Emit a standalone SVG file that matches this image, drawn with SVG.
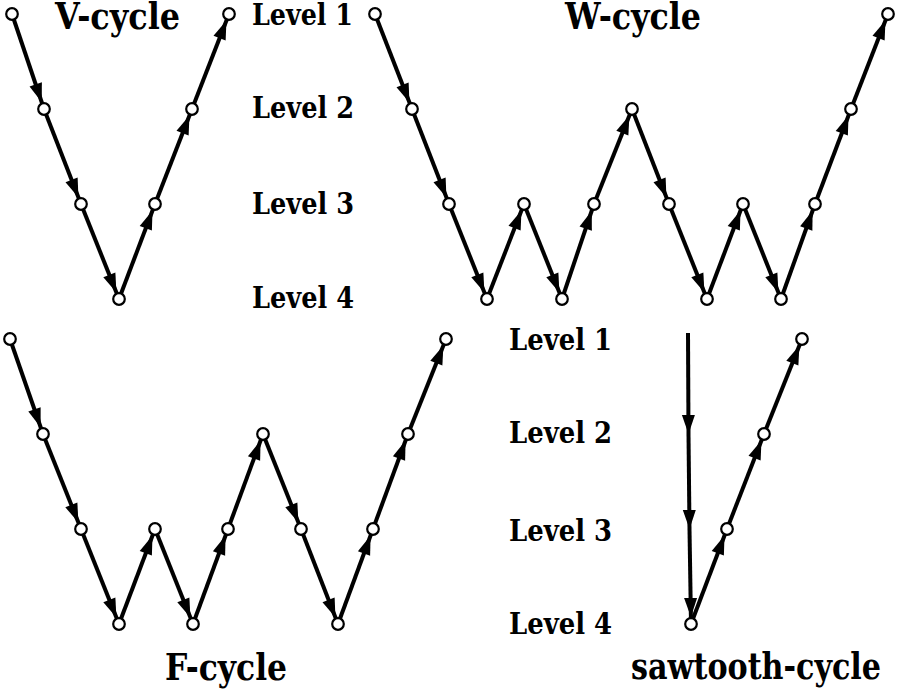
<svg xmlns="http://www.w3.org/2000/svg" width="898" height="691" viewBox="0 0 898 691">
<style>
.bg{fill:#fff}
.e{fill:none;stroke:#000;stroke-width:4;marker-end:url(#ah)}
.m{fill:none;stroke:#000;stroke-width:4;marker-end:url(#am)}
.n{fill:#fff;stroke:#000;stroke-width:2.2}
text{font-family:'DejaVu Serif Condensed','DejaVu Serif','Liberation Serif',serif;font-weight:bold;fill:#000}
.title{font-size:37px;text-anchor:middle}
.lvl{font-size:30px}
</style>
<defs>
<marker id="ah" markerUnits="userSpaceOnUse" markerWidth="27" markerHeight="13" refX="26" refY="6.5" orient="auto" overflow="visible">
<path d="M0,0 L19,6.5 L0,13 z" fill="#000"/>
</marker>
<marker id="am" markerUnits="userSpaceOnUse" markerWidth="19" markerHeight="13" refX="19" refY="6.5" orient="auto" overflow="visible">
<path d="M0,0 L19,6.5 L0,13 z" fill="#000"/>
</marker>
</defs>
<rect class="bg" x="0" y="0" width="898" height="691"/>
<g id="connectors">
<line class="e" x1="12" y1="14" x2="44" y2="109"/>
<line class="e" x1="44" y1="109" x2="81" y2="204"/>
<line class="e" x1="81" y1="204" x2="119" y2="299"/>
<line class="e" x1="119" y1="299" x2="155" y2="204"/>
<line class="e" x1="155" y1="204" x2="192" y2="109"/>
<line class="e" x1="192" y1="109" x2="229" y2="14"/>
<line class="e" x1="375" y1="14" x2="412" y2="109"/>
<line class="e" x1="412" y1="109" x2="449" y2="204"/>
<line class="e" x1="449" y1="204" x2="487" y2="299"/>
<line class="e" x1="487" y1="299" x2="524" y2="204"/>
<line class="e" x1="524" y1="204" x2="562" y2="299"/>
<line class="e" x1="562" y1="299" x2="594" y2="204"/>
<line class="e" x1="594" y1="204" x2="632" y2="109"/>
<line class="e" x1="632" y1="109" x2="669" y2="204"/>
<line class="e" x1="669" y1="204" x2="707" y2="299"/>
<line class="e" x1="707" y1="299" x2="743" y2="204"/>
<line class="e" x1="743" y1="204" x2="781" y2="299"/>
<line class="e" x1="781" y1="299" x2="815" y2="204"/>
<line class="e" x1="815" y1="204" x2="851" y2="109"/>
<line class="e" x1="851" y1="109" x2="888" y2="14"/>
<line class="e" x1="10" y1="339" x2="43" y2="434"/>
<line class="e" x1="43" y1="434" x2="81" y2="529"/>
<line class="e" x1="81" y1="529" x2="119" y2="624"/>
<line class="e" x1="119" y1="624" x2="155" y2="529"/>
<line class="e" x1="155" y1="529" x2="193" y2="624"/>
<line class="e" x1="193" y1="624" x2="228" y2="529"/>
<line class="e" x1="228" y1="529" x2="263" y2="434"/>
<line class="e" x1="263" y1="434" x2="301" y2="529"/>
<line class="e" x1="301" y1="529" x2="338" y2="624"/>
<line class="e" x1="338" y1="624" x2="373" y2="529"/>
<line class="e" x1="373" y1="529" x2="408" y2="434"/>
<line class="e" x1="408" y1="434" x2="446" y2="339"/>
<line class="m" x1="688" y1="333" x2="688.5" y2="434"/>
<line class="m" x1="688.5" y1="434" x2="689.5" y2="529"/>
<line class="e" x1="689.5" y1="529" x2="691" y2="624"/>
<line class="e" x1="691" y1="624" x2="727" y2="529"/>
<line class="e" x1="727" y1="529" x2="764" y2="434"/>
<line class="e" x1="764" y1="434" x2="802" y2="339"/>
</g>
<g id="v-cycle">
<circle class="n" cx="12" cy="14" r="5.8"/>
<circle class="n" cx="44" cy="109" r="5.8"/>
<circle class="n" cx="81" cy="204" r="5.8"/>
<circle class="n" cx="119" cy="299" r="5.8"/>
<circle class="n" cx="155" cy="204" r="5.8"/>
<circle class="n" cx="192" cy="109" r="5.8"/>
<circle class="n" cx="229" cy="14" r="5.8"/>
<text class="title" x="117.5" y="29" textLength="125" lengthAdjust="spacingAndGlyphs">V-cycle</text>
</g>
<g id="w-cycle">
<circle class="n" cx="375" cy="14" r="5.8"/>
<circle class="n" cx="412" cy="109" r="5.8"/>
<circle class="n" cx="449" cy="204" r="5.8"/>
<circle class="n" cx="487" cy="299" r="5.8"/>
<circle class="n" cx="524" cy="204" r="5.8"/>
<circle class="n" cx="562" cy="299" r="5.8"/>
<circle class="n" cx="594" cy="204" r="5.8"/>
<circle class="n" cx="632" cy="109" r="5.8"/>
<circle class="n" cx="669" cy="204" r="5.8"/>
<circle class="n" cx="707" cy="299" r="5.8"/>
<circle class="n" cx="743" cy="204" r="5.8"/>
<circle class="n" cx="781" cy="299" r="5.8"/>
<circle class="n" cx="815" cy="204" r="5.8"/>
<circle class="n" cx="851" cy="109" r="5.8"/>
<circle class="n" cx="888" cy="14" r="5.8"/>
<text class="title" x="633" y="29" textLength="136" lengthAdjust="spacingAndGlyphs">W-cycle</text>
</g>
<g id="f-cycle">
<circle class="n" cx="10" cy="339" r="5.8"/>
<circle class="n" cx="43" cy="434" r="5.8"/>
<circle class="n" cx="81" cy="529" r="5.8"/>
<circle class="n" cx="119" cy="624" r="5.8"/>
<circle class="n" cx="155" cy="529" r="5.8"/>
<circle class="n" cx="193" cy="624" r="5.8"/>
<circle class="n" cx="228" cy="529" r="5.8"/>
<circle class="n" cx="263" cy="434" r="5.8"/>
<circle class="n" cx="301" cy="529" r="5.8"/>
<circle class="n" cx="338" cy="624" r="5.8"/>
<circle class="n" cx="373" cy="529" r="5.8"/>
<circle class="n" cx="408" cy="434" r="5.8"/>
<circle class="n" cx="446" cy="339" r="5.8"/>
<text class="title" x="226" y="680" textLength="122" lengthAdjust="spacingAndGlyphs">F-cycle</text>
</g>
<g id="sawtooth-cycle">
<circle class="n" cx="691" cy="624" r="5.8"/>
<circle class="n" cx="727" cy="529" r="5.8"/>
<circle class="n" cx="764" cy="434" r="5.8"/>
<circle class="n" cx="802" cy="339" r="5.8"/>
<text class="title" x="756" y="679" textLength="250" lengthAdjust="spacingAndGlyphs">sawtooth-cycle</text>
</g>
<g id="levels-top">
<text class="lvl" x="252" y="25" textLength="101" lengthAdjust="spacingAndGlyphs">Level 1</text>
<text class="lvl" x="252" y="118" textLength="102" lengthAdjust="spacingAndGlyphs">Level 2</text>
<text class="lvl" x="252" y="214" textLength="102" lengthAdjust="spacingAndGlyphs">Level 3</text>
<text class="lvl" x="252" y="308" textLength="102" lengthAdjust="spacingAndGlyphs">Level 4</text>
</g>
<g id="levels-bottom">
<text class="lvl" x="509" y="350" textLength="103" lengthAdjust="spacingAndGlyphs">Level 1</text>
<text class="lvl" x="509" y="443" textLength="103" lengthAdjust="spacingAndGlyphs">Level 2</text>
<text class="lvl" x="509" y="541" textLength="103" lengthAdjust="spacingAndGlyphs">Level 3</text>
<text class="lvl" x="509" y="634" textLength="103" lengthAdjust="spacingAndGlyphs">Level 4</text>
</g>
</svg>
